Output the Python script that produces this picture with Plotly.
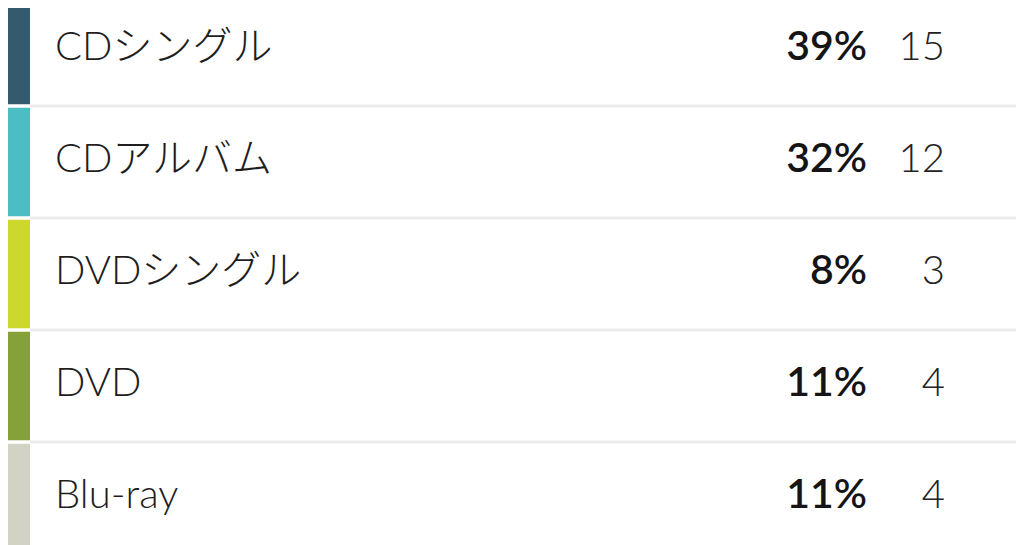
import plotly.graph_objects as go

# データ
labels = ["CDシングル", "CDアルバム", "DVDシングル", "DVD", "Blu-ray"]
percents = [39, 32, 8, 11, 11]
counts = [15, 12, 3, 4, 4]
colors = ["#345a6d", "#4bbec4", "#ccd82d", "#85a13a", "#d2d2c5"]

rows = list(range(len(labels)))
FONT = "Lato, 'Noto Sans CJK JP', sans-serif"

# ページの余白(8px)を差し引いたサイズ
W, H, OFF = 1016, 537, 8

fig = go.Figure()

# 左の色帯
fig.add_trace(go.Bar(
    y=rows, x=[27] * len(rows), base=3, orientation="h", width=0.97,
    marker=dict(color=colors, line=dict(width=0)), hoverinfo="skip",
))

# ラベル
fig.add_trace(go.Scatter(
    x=[55] * len(rows), y=rows, mode="text", text=labels,
    textposition="middle right",
    textfont=dict(family=FONT, size=40, color="#1e1e1e", weight=300),
    hoverinfo="skip",
))

# パーセント（太字）
fig.add_trace(go.Scatter(
    x=[867] * len(rows), y=rows, mode="text",
    text=[f"{p}%" for p in percents],
    textposition="middle left",
    textfont=dict(family=FONT, size=41, color="#151515", weight=600),
    hoverinfo="skip",
))

# 件数
fig.add_trace(go.Scatter(
    x=[945] * len(rows), y=rows, mode="text",
    text=[str(c) for c in counts],
    textposition="middle left",
    textfont=dict(family=FONT, size=40, color="#222222", weight=300),
    hoverinfo="skip",
))

# 行の区切り線
shapes = []
for i in rows[:-1]:
    shapes.append(dict(type="line", xref="x", yref="y",
                       x0=30, x1=1024, y0=i + 0.5, y1=i + 0.5,
                       line=dict(color="#ebebeb", width=3)))

fig.update_layout(
    width=W, height=H,
    margin=dict(l=0, r=0, t=0, b=0),
    paper_bgcolor="white", plot_bgcolor="white",
    showlegend=False, shapes=shapes,
    xaxis=dict(range=[OFF, 1024], visible=False, fixedrange=True),
    yaxis=dict(range=[4.42, (OFF - 50) / 112], visible=False, fixedrange=True),
)

fig.write_html("out.html", config={"displayModeBar": False})
